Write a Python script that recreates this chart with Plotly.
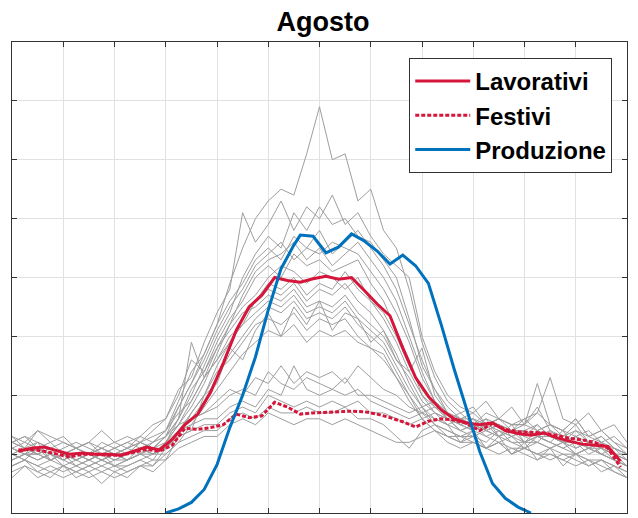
import numpy as np
import plotly.graph_objects as go

# half-hour grid for the daily profiles (0..24 h)
hours = np.arange(0, 24.01, 0.5)
# mid-interval grid for the averaged profiles
hours_mid = np.arange(0.25, 24, 0.5)

# grey daily load profiles, working days
working_days = [
    [1.2, 1.3, 1.1, 1.2, 1.0, 1.1, 1.0, 1.2, 1.1, 1.0, 1.2, 1.3, 1.4, 1.9, 2.4, 2.7, 3.2, 3.9, 4.5, 5.0, 5.3, 5.5, 5.4, 6.1, 6.9,
     6.0, 6.1, 5.3, 5.5, 4.8, 4.5, 3.8, 2.9, 2.3, 1.9, 1.7, 1.8, 1.5, 1.6, 1.5, 1.5, 1.8, 1.4, 1.3, 1.5, 1.2, 1.3, 1.1, 1.0],
    [1.1, 1.0, 1.2, 0.9, 1.0, 0.9, 1.0, 0.9, 1.0, 1.1, 1.0, 1.2, 1.3, 1.6, 2.0, 2.5, 3.0, 3.4, 4.0, 4.4, 4.7, 4.5, 5.1, 4.8, 5.2,
     4.9, 5.0, 4.7, 4.6, 4.3, 4.0, 3.3, 2.5, 2.1, 1.7, 1.5, 1.6, 1.4, 1.5, 1.3, 1.4, 1.5, 1.3, 1.2, 1.3, 1.1, 1.2, 1.0, 0.9],
    [0.9, 1.0, 0.9, 1.0, 0.8, 0.9, 0.8, 0.9, 0.8, 0.9, 1.0, 1.1, 1.3, 1.8, 2.2, 2.6, 3.1, 3.5, 3.8, 4.2, 4.4, 4.6, 4.3, 4.5, 4.4,
     4.6, 4.5, 4.4, 4.1, 3.8, 3.4, 2.9, 2.3, 1.9, 1.6, 1.4, 1.3, 1.2, 1.4, 1.2, 1.1, 1.3, 1.2, 1.1, 1.0, 1.1, 1.0, 0.9, 0.8],
    [1.3, 1.2, 1.4, 1.3, 1.2, 1.1, 1.2, 1.1, 1.2, 1.3, 1.2, 1.4, 1.6, 2.0, 2.6, 2.4, 2.9, 3.3, 3.6, 4.0, 4.2, 4.0, 4.4, 4.2, 4.3,
     4.1, 4.2, 4.3, 3.9, 3.6, 3.1, 2.6, 2.0, 1.8, 1.6, 1.7, 1.5, 1.6, 1.5, 1.4, 1.6, 1.4, 1.5, 1.3, 1.4, 1.3, 1.2, 1.3, 1.1],
    [1.0, 1.1, 1.0, 0.9, 1.0, 1.0, 0.9, 1.0, 1.0, 0.9, 1.1, 1.0, 1.2, 1.5, 1.8, 2.2, 2.7, 3.2, 3.5, 3.7, 4.0, 4.2, 4.1, 3.9, 4.1,
     4.0, 3.8, 4.0, 3.6, 3.4, 3.0, 2.5, 2.1, 1.8, 1.6, 1.5, 1.4, 1.6, 1.3, 1.4, 1.3, 1.2, 1.4, 1.2, 1.1, 1.2, 1.0, 1.1, 0.9],
    [0.8, 0.9, 0.7, 0.8, 0.7, 0.8, 0.7, 0.8, 0.7, 0.8, 0.9, 0.8, 1.1, 1.4, 1.7, 2.0, 2.5, 2.9, 3.3, 3.6, 3.8, 3.7, 3.9, 3.6, 3.8,
     3.7, 3.9, 3.6, 3.4, 3.1, 2.7, 2.2, 1.8, 1.5, 1.3, 1.2, 1.3, 1.1, 1.2, 1.0, 1.1, 1.0, 0.9, 1.0, 0.9, 0.8, 0.9, 0.7, 0.6],
    [1.2, 1.1, 1.0, 1.1, 1.0, 1.1, 1.0, 1.1, 1.0, 1.1, 1.2, 1.1, 1.3, 1.6, 2.1, 2.4, 2.8, 3.1, 3.4, 3.5, 3.7, 3.6, 3.8, 3.5, 3.6,
     3.5, 3.7, 3.4, 3.2, 3.0, 2.6, 2.3, 1.9, 1.7, 1.6, 1.4, 1.5, 1.4, 1.3, 1.5, 1.2, 1.3, 1.2, 1.4, 1.1, 1.2, 1.1, 1.0, 1.0],
    [1.0, 0.9, 1.1, 1.0, 0.9, 1.0, 0.9, 1.0, 0.9, 1.0, 1.1, 1.0, 1.1, 1.4, 1.6, 1.9, 2.3, 2.7, 3.0, 3.3, 3.5, 3.4, 3.6, 3.3, 3.4,
     3.3, 3.5, 3.2, 3.0, 2.8, 2.4, 2.0, 1.7, 1.5, 1.4, 1.3, 1.4, 1.3, 1.2, 1.3, 1.1, 1.2, 1.1, 1.2, 1.0, 1.1, 1.0, 0.9, 0.8],
    [0.7, 0.8, 0.6, 0.7, 0.6, 0.7, 0.6, 0.7, 0.6, 0.7, 0.8, 0.8, 1.0, 1.2, 1.5, 1.8, 2.1, 2.4, 2.7, 2.9, 3.1, 3.0, 3.2, 2.9, 3.1,
     3.0, 3.1, 2.9, 2.8, 2.6, 2.3, 1.9, 1.6, 1.4, 1.2, 1.1, 1.2, 1.1, 1.0, 1.1, 1.0, 0.9, 1.0, 0.9, 0.8, 0.9, 0.8, 0.7, 0.6],
    [1.1, 1.2, 1.1, 1.0, 1.1, 1.2, 1.1, 1.0, 1.1, 1.2, 1.1, 1.2, 1.4, 1.7, 1.9, 2.3, 2.6, 3.0, 3.2, 3.6, 3.9, 3.8, 4.0, 3.7, 3.9,
     3.8, 4.1, 3.8, 3.6, 3.3, 2.9, 2.4, 2.8, 2.0, 1.7, 1.6, 1.5, 1.7, 1.6, 1.4, 1.5, 2.2, 1.5, 1.4, 1.6, 1.3, 1.4, 1.2, 1.1],
    [0.9, 1.0, 1.1, 1.0, 0.9, 1.0, 1.0, 0.9, 1.0, 1.0, 1.1, 1.0, 1.2, 1.6, 2.9, 2.3, 2.6, 2.9, 3.2, 3.4, 3.6, 3.5, 3.7, 3.4, 3.5,
     3.4, 3.6, 3.3, 3.1, 2.9, 2.5, 2.1, 1.8, 1.6, 1.5, 1.4, 1.5, 1.3, 1.4, 1.3, 1.2, 1.4, 1.3, 1.2, 1.3, 1.1, 1.2, 1.0, 0.9],
    [1.1, 1.0, 1.0, 1.1, 1.0, 0.9, 1.0, 1.1, 1.0, 1.0, 1.2, 1.1, 1.3, 1.5, 1.9, 2.3, 2.8, 3.2, 3.7, 4.1, 4.3, 4.4, 4.6, 4.3, 4.5,
     4.2, 4.4, 4.6, 4.3, 4.0, 3.6, 3.0, 2.4, 1.9, 1.7, 1.5, 1.6, 1.4, 1.5, 1.4, 1.3, 1.5, 1.3, 1.2, 1.4, 1.2, 1.3, 1.1, 1.0],
    [0.8, 0.9, 0.8, 0.9, 0.8, 0.7, 0.8, 0.9, 0.8, 0.8, 0.9, 1.0, 1.1, 1.3, 1.7, 2.0, 2.4, 2.6, 2.9, 3.2, 3.3, 3.2, 3.4, 3.1, 3.3,
     3.2, 3.3, 3.0, 2.8, 2.7, 2.3, 2.0, 1.6, 1.4, 1.3, 1.3, 1.2, 1.1, 1.2, 1.0, 1.1, 1.0, 1.0, 0.9, 1.0, 0.8, 0.9, 0.8, 0.7],
    [1.2, 1.3, 1.2, 1.1, 1.2, 1.1, 1.2, 1.0, 1.1, 1.2, 1.3, 1.2, 1.4, 1.8, 2.2, 2.7, 3.2, 3.6, 3.9, 4.3, 4.5, 4.3, 4.7, 4.5, 4.8,
     4.4, 4.6, 4.8, 4.5, 4.2, 3.8, 3.2, 2.6, 2.1, 1.8, 1.6, 1.7, 1.5, 1.6, 1.5, 1.6, 1.7, 1.5, 1.4, 1.6, 1.3, 1.4, 1.2, 1.0],
    [0.6, 0.8, 0.7, 0.6, 0.8, 0.6, 0.7, 0.5, 0.7, 0.6, 0.8, 0.7, 0.9, 1.3, 1.4, 2.0, 2.2, 2.8, 2.6, 3.1, 3.4, 3.0, 3.5, 3.2, 3.6,
     3.1, 3.4, 3.3, 2.9, 3.1, 2.6, 2.4, 2.0, 1.7, 1.5, 1.2, 1.4, 1.1, 1.3, 1.0, 1.2, 0.9, 1.1, 0.8, 1.0, 0.9, 0.7, 0.8, 0.6],
    [1.3, 1.1, 1.4, 1.2, 1.3, 1.1, 1.2, 1.4, 1.2, 1.1, 1.3, 1.5, 1.6, 2.1, 2.3, 2.9, 3.4, 3.8, 5.1, 4.6, 4.9, 5.3, 4.8, 5.2, 5.0,
     5.4, 4.9, 5.1, 4.7, 4.4, 4.2, 4.0, 3.0, 2.4, 2.0, 1.8, 1.7, 1.9, 1.6, 1.8, 1.5, 1.7, 2.3, 1.6, 1.5, 1.7, 1.4, 1.5, 1.2],
]

# grey daily load profiles, holidays
holiday_days = [
    [1.0, 1.1, 1.0, 0.9, 1.0, 0.9, 1.0, 0.9, 1.0, 0.9, 1.0, 1.1, 1.1, 1.3, 1.4, 1.5, 1.5, 1.7, 1.8, 1.7, 2.0, 1.9, 1.8, 1.9, 1.8,
     1.9, 1.8, 1.9, 1.7, 1.7, 1.6, 1.5, 1.6, 1.7, 1.6, 1.5, 1.4, 1.5, 1.4, 1.3, 1.4, 1.3, 1.4, 1.2, 1.3, 1.2, 1.1, 1.0, 0.8],
    [1.2, 1.1, 1.2, 1.1, 1.0, 1.1, 1.0, 1.1, 1.0, 1.1, 1.2, 1.1, 1.2, 1.5, 1.6, 1.7, 1.8, 2.0, 2.1, 2.0, 2.4, 2.2, 2.1, 2.3, 2.2,
     2.1, 2.3, 2.0, 2.0, 1.9, 1.8, 1.7, 1.8, 1.9, 1.7, 1.6, 1.6, 1.5, 1.6, 1.5, 1.5, 1.4, 1.5, 1.4, 1.3, 1.4, 1.2, 1.1, 1.0],
    [0.8, 0.9, 0.8, 0.7, 0.8, 0.7, 0.8, 0.7, 0.8, 0.7, 0.8, 0.9, 0.9, 1.1, 1.2, 1.3, 1.3, 1.5, 1.6, 1.5, 1.7, 1.6, 1.5, 1.6, 1.6,
     1.5, 1.6, 1.5, 1.4, 1.3, 1.2, 1.2, 1.3, 1.4, 1.3, 1.2, 1.2, 1.1, 1.2, 1.1, 1.1, 1.0, 1.1, 1.0, 1.0, 0.9, 0.9, 0.8, 0.7],
    [1.1, 1.0, 1.0, 1.1, 0.9, 1.0, 0.9, 1.0, 0.9, 1.0, 1.1, 1.0, 1.1, 1.4, 1.5, 1.6, 1.6, 1.8, 1.9, 1.8, 2.1, 2.0, 2.5, 2.1, 2.0,
     2.1, 2.0, 2.1, 1.9, 1.8, 1.7, 1.6, 1.7, 1.8, 1.7, 1.6, 1.5, 1.4, 1.5, 1.4, 1.4, 1.3, 1.3, 1.2, 1.2, 1.1, 1.1, 1.0, 0.9],
    [0.9, 1.0, 0.9, 1.0, 0.9, 0.8, 0.9, 0.8, 0.9, 0.9, 1.0, 1.0, 1.0, 1.2, 1.3, 1.4, 1.4, 1.6, 1.7, 1.6, 1.8, 1.7, 1.7, 1.8, 1.7,
     1.7, 1.8, 1.6, 1.6, 1.5, 1.3, 1.1, 1.4, 1.5, 1.4, 1.3, 1.3, 1.4, 1.3, 1.2, 1.2, 1.2, 1.1, 1.2, 1.0, 1.1, 1.0, 0.9, 0.8],
    [1.0, 0.9, 1.1, 0.9, 1.0, 0.8, 0.9, 1.0, 0.8, 0.9, 1.0, 0.9, 1.2, 1.4, 1.6, 1.7, 1.9, 2.1, 2.0, 2.3, 2.2, 2.5, 2.2, 2.4, 2.3,
     2.4, 2.2, 2.5, 2.3, 2.1, 2.0, 1.8, 1.7, 1.6, 1.5, 1.6, 1.4, 1.5, 1.3, 1.4, 1.2, 1.3, 1.2, 1.1, 1.2, 1.0, 1.1, 0.9, 0.8],
]

# average profiles (on hours_mid)
lavorativi = [1.05, 1.10, 1.12, 1.06, 1.00, 1.02, 1.00, 1.00, 0.98, 1.05, 1.12, 1.07, 1.25, 1.50, 1.68, 2.05,
              2.55, 3.10, 3.50, 3.70, 4.00, 3.95, 3.92, 3.98, 4.02, 3.97, 4.00, 3.78, 3.55, 3.35, 2.80, 2.30,
              1.98, 1.75, 1.60, 1.53, 1.50, 1.53, 1.40, 1.35, 1.32, 1.36, 1.28, 1.22, 1.17, 1.15, 1.13, 0.88]
festivi = [1.07, 1.08, 1.05, 1.00, 0.95, 1.00, 1.00, 0.98, 0.98, 1.03, 1.08, 1.05, 1.15, 1.44, 1.42, 1.45,
           1.50, 1.68, 1.62, 1.65, 1.88, 1.80, 1.68, 1.70, 1.71, 1.72, 1.73, 1.72, 1.68, 1.62, 1.55, 1.46,
           1.56, 1.60, 1.58, 1.52, 1.40, 1.52, 1.42, 1.38, 1.37, 1.36, 1.32, 1.27, 1.24, 1.20, 1.10, 0.78]

# PV production
prod_hours = [6.0, 6.5, 7.0, 7.5, 8.0, 8.5, 9.0, 9.5, 10.0, 10.5, 11.0, 11.25, 11.75, 12.25, 12.75, 13.25,
              13.75, 14.25, 14.75, 15.25, 15.75, 16.25, 16.75, 17.25, 17.75, 18.25, 18.75, 19.25, 19.75, 20.25]
produzione = [0.0, 0.07, 0.18, 0.40, 0.82, 1.45, 2.00, 2.65, 3.45, 4.15, 4.55, 4.72, 4.70, 4.42, 4.52, 4.74,
              4.62, 4.45, 4.23, 4.38, 4.20, 3.90, 3.20, 2.45, 1.75, 1.05, 0.50, 0.25, 0.10, 0.0]

GREY = "rgb(158,158,158)"
RED = "rgb(213,22,58)"
BLUE = "rgb(0,114,189)"

fig = go.Figure()

for day in working_days + holiday_days:
    fig.add_trace(go.Scatter(x=hours, y=day, mode="lines", line=dict(color=GREY, width=1),
                             showlegend=False, hoverinfo="skip"))

fig.add_trace(go.Scatter(x=hours_mid, y=lavorativi, mode="lines", name="<b>Lavorativi</b>",
                         line=dict(color=RED, width=3)))
fig.add_trace(go.Scatter(x=hours_mid, y=festivi, mode="lines", name="<b>Festivi</b>",
                         line=dict(color=RED, width=3, dash="4px,2px")))
fig.add_trace(go.Scatter(x=prod_hours, y=produzione, mode="lines", name="<b>Produzione</b>",
                         line=dict(color=BLUE, width=3)))

axis_style = dict(showticklabels=False, ticks="inside", ticklen=5, tickcolor="rgb(50,50,50)",
                  showline=True, linecolor="rgb(50,50,50)", linewidth=1, mirror="ticks",
                  showgrid=True, gridcolor="rgb(225,225,225)", gridwidth=1, zeroline=False)

fig.update_xaxes(range=[0, 24], dtick=2, tick0=0, **axis_style)
fig.update_yaxes(range=[0, 8], dtick=1, tick0=0, **axis_style)

# the page body adds an 8px offset, so the figure is 8px smaller than the window
fig.update_layout(
    width=630, height=510,
    margin=dict(l=4, r=11, t=34, b=5),
    paper_bgcolor="white", plot_bgcolor="white",
    font=dict(family="Liberation Sans", color="black"),
    title=dict(text="<b>Agosto</b>", x=0.5, xanchor="center", y=0.9725, yanchor="middle",
               yref="container", font=dict(size=27, family="Liberation Sans", color="black")),
    legend=dict(x=0.976, xanchor="right", y=0.966, yanchor="top",
                bgcolor="white", bordercolor="rgb(50,50,50)", borderwidth=1,
                font=dict(size=24, family="Liberation Sans", color="black"),
                itemwidth=55),
)

fig.write_html("out.html")
